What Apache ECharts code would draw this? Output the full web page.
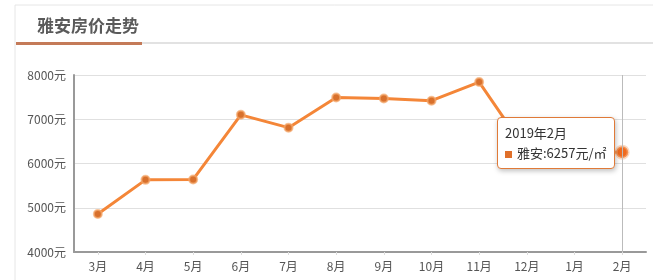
<!DOCTYPE html>
<html><head><meta charset="utf-8">
<script src="https://cdn.jsdelivr.net/npm/echarts@6/dist/echarts.min.js"></script>
<style>html,body{margin:0;padding:0;background:#fff;}#c{width:653px;height:280px;}</style>
</head><body><div id="c"></div>
<script>
var titleText = '雅安房价走势';
var seriesName = '雅安';
var categories = ['3月','4月','5月','6月','7月','8月','9月','10月','11月','12月','1月','2月'];
var tipLabels = ['2018年3月','2018年4月','2018年5月','2018年6月','2018年7月','2018年8月','2018年9月','2018年10月','2018年11月','2018年12月','2019年1月','2019年2月'];
var prices = [4860, 5630, 5640, 7100, 6810, 7490, 7470, 7420, 7840, 6270, 6260, 6257];
var yTicks = [4000, 5000, 6000, 7000, 8000];

var chart = echarts.init(document.getElementById('c'));
chart.setOption({
  animation: false,
  title: { text: titleText, left: 32, top: 12, textStyle: { fontSize: 17, fontWeight: 'bold', color: '#5a5a5a', fontFamily: 'Noto Sans CJK SC' } },
  graphic: [
    { type: 'rect', shape: { x: 15, y: 5, width: 700, height: 300 }, style: { fill: 'none', stroke: '#e6e6e6', lineWidth: 1 }, silent: true, z: -1 },
    { type: 'rect', shape: { x: 16, y: 42, width: 640, height: 2 }, style: { fill: '#e2e2e2' }, silent: true },
    { type: 'rect', shape: { x: 16, y: 42, width: 126, height: 3 }, style: { fill: '#c47a58' }, silent: true }
  ],
  grid: { left: 74, right: 7, top: 75, bottom: 28 },
  tooltip: {
    trigger: 'axis',
    alwaysShowContent: true,
    position: [497, 117],
    backgroundColor: '#fff',
    borderColor: '#e07a38',
    borderWidth: 1,
    padding: [5, 7],
    extraCssText: 'box-shadow:1px 2px 5px rgba(0,0,0,0.25);border-radius:4px;',
    textStyle: { color: '#333', fontSize: 13, fontFamily: 'Noto Sans CJK SC' },
    axisPointer: { type: 'line', lineStyle: { color: '#bbb', width: 1, type: 'solid' } },
    formatter: function (p) {
      var d = p[0];
      return '<div style="line-height:20px">' + tipLabels[d.dataIndex] + '<br/><span style="display:inline-block;width:7px;height:7px;background:#e0702a;margin-right:5px;vertical-align:middle"></span>' + d.seriesName + ':' + d.value + '元/㎡</div>';
    }
  },
  xAxis: {
    type: 'category',
    data: categories,
    boundaryGap: true,
    axisLine: { lineStyle: { color: '#999', width: 2 } },
    axisTick: { show: true, alignWithLabel: true, length: 3, lineStyle: { color: '#ddd' } },
    axisLabel: { color: '#555', fontSize: 12, margin: 8, fontFamily: 'Noto Sans CJK SC' }
  },
  yAxis: {
    type: 'value',
    min: yTicks[0], max: yTicks[yTicks.length - 1], interval: 1000,
    axisLine: { show: true, lineStyle: { color: '#999', width: 2 } },
    axisTick: { show: false },
    splitLine: { lineStyle: { color: '#e0e0e0' } },
    axisLabel: { color: '#555', fontSize: 12, margin: 8, formatter: function (v) { return v + '元'; }, fontFamily: 'Noto Sans CJK SC' }
  },
  series: [{
    name: seriesName,
    type: 'line',
    data: prices,
    symbol: 'circle',
    symbolSize: 8,
    lineStyle: { color: '#de7a33', width: 3 },
    itemStyle: { color: '#d8702c', borderColor: 'rgba(245,170,110,0.7)', borderWidth: 2 },
    emphasis: { scale: 1.5, itemStyle: { color: '#ef6a1e', borderColor: 'rgba(250,180,130,0.5)', borderWidth: 3 } }
  }]
});
chart.dispatchAction({ type: 'showTip', seriesIndex: 0, dataIndex: 11 });
</script>
</body></html>
